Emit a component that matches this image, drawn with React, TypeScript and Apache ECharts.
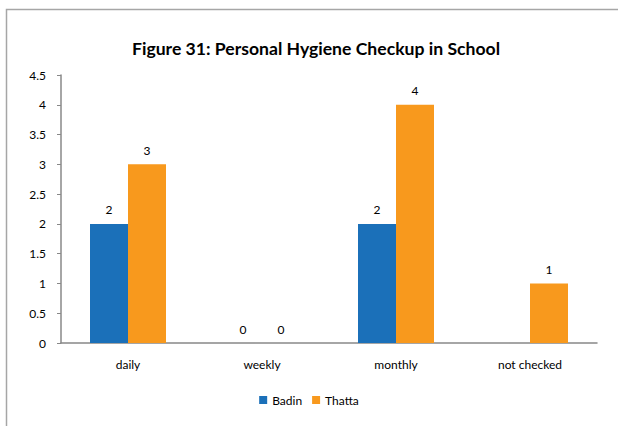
import React, { useEffect, useRef } from "react";
import * as echarts from "echarts";

const categories = ["daily", "weekly", "monthly", "not checked"];
const badin: (number | null)[] = [2, 0, 2, null];
const thatta: (number | null)[] = [3, 0, 4, 1];
const titleText = "Figure 31: Personal Hygiene Checkup in School";

const FONT = "Lato, 'Liberation Sans', sans-serif";

export default function App() {
  const ref = useRef<HTMLDivElement>(null);
  useEffect(() => {
    document.body.style.margin = "0";
    const chart = echarts.init(ref.current!, null, { renderer: "svg" });
    const label = {
      show: true,
      position: "top" as const,
      distance: 8,
      color: "#000",
      fontSize: 12,
      fontFamily: FONT,
    };
    chart.setOption({
      animation: false,
      backgroundColor: "#fff",
      textStyle: { fontFamily: FONT },
      graphic: [
        {
          type: "rect",
          shape: { x: 6.5, y: 9.5, width: 700, height: 600 },
          style: { fill: "none", stroke: "#a6a6a6", lineWidth: 1.5 },
          silent: true,
        },
      ],
      title: {
        text: titleText,
        left: 311,
        top: 34,
        textAlign: "center",
        textStyle: { fontFamily: FONT, fontWeight: "bold", fontSize: 17.6, color: "#000" },
      },
      legend: {
        data: ["Badin", "Thatta"],
        top: 389,
        left: "center",
        itemWidth: 8,
        itemHeight: 8,
        itemGap: 10,
        icon: "rect",
        textStyle: { fontFamily: FONT, fontSize: 12, color: "#000" },
      },
      grid: { left: 61, right: 21, top: 75, bottom: 83, containLabel: false },
      xAxis: {
        type: "category",
        data: categories,
        axisLine: { lineStyle: { color: "#888", width: 1.5 } },
        axisTick: { show: false },
        axisLabel: { color: "#000", fontSize: 12, fontFamily: FONT, margin: 15 },
      },
      yAxis: {
        type: "value",
        min: 0,
        max: 4.5,
        interval: 0.5,
        splitLine: { show: false },
        axisLine: { show: true, lineStyle: { color: "#888", width: 1.5 } },
        axisTick: { show: true, length: 4, lineStyle: { color: "#888" } },
        axisLabel: { color: "#000", fontSize: 12, fontFamily: FONT, margin: 15 },
      },
      series: [
        {
          name: "Badin",
          type: "bar",
          data: badin,
          barWidth: 38,
          barGap: "0%",
          itemStyle: { color: "#1b70b9" },
          label,
        },
        {
          name: "Thatta",
          type: "bar",
          data: thatta,
          barWidth: 38,
          barGap: "0%",
          itemStyle: { color: "#f8991d" },
          label,
        },
      ],
    });
    return () => chart.dispose();
  }, []);
  return <div ref={ref} style={{ width: 618, height: 426 }} />;
}
